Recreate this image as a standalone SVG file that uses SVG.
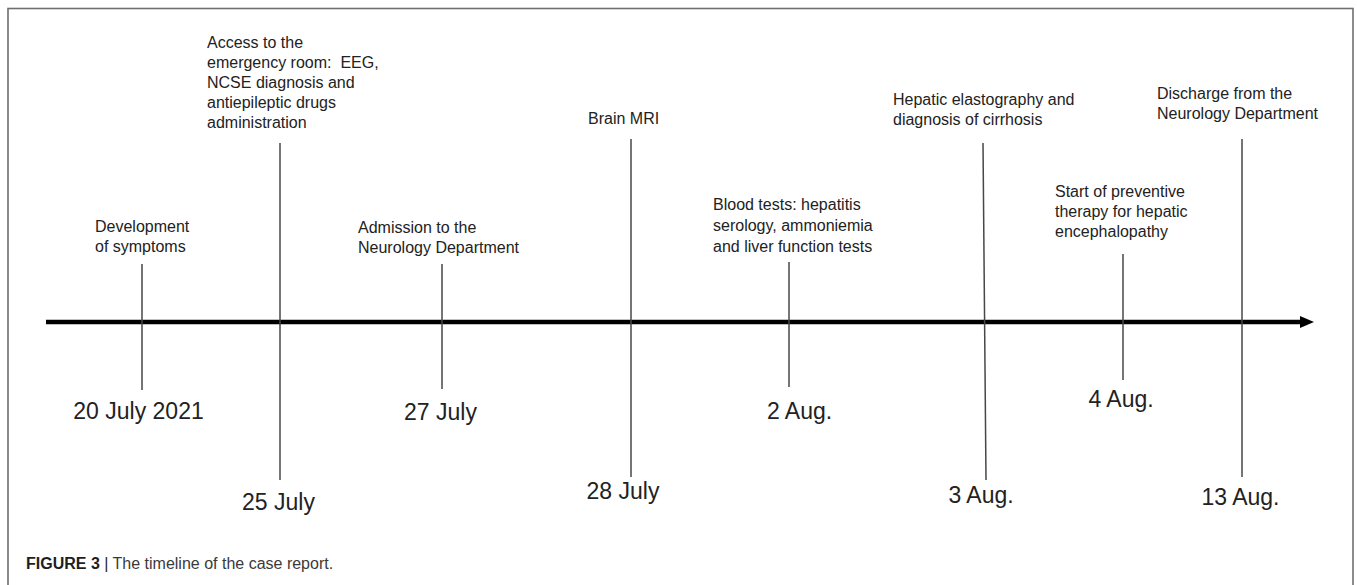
<svg xmlns="http://www.w3.org/2000/svg" width="1357" height="585" viewBox="0 0 1357 585">
<style>
.lbl{font-family:"Liberation Sans",Arial,sans-serif;font-size:16px;fill:#222}
.date{font-family:"Liberation Sans",Arial,sans-serif;font-size:23px;fill:#222;text-anchor:middle}
.tick{stroke:#474747;stroke-width:1.5;fill:none}
.cap{font-family:"Liberation Sans",Arial,Helvetica,sans-serif;font-size:16px;fill:#3a3a3a}
</style>
<defs>
<marker id="ah" viewBox="0 0 14 12" refX="1" refY="6" markerWidth="14" markerHeight="12" markerUnits="userSpaceOnUse" orient="auto">
<path d="M0,0 L14,6 L0,12 z" fill="#000"/>
</marker>
</defs>
<rect x="0" y="0" width="1357" height="585" fill="#fff"/>
<rect x="8" y="8.5" width="1345" height="600" fill="none" stroke="#6e6e6e" stroke-width="1.6"/>

<g id="connectors">
<line x1="46" y1="322" x2="1301" y2="322" stroke="#000" stroke-width="4.5" marker-end="url(#ah)"/>
<line class="tick" x1="142" y1="264" x2="142" y2="390"/>
<line class="tick" x1="280" y1="143" x2="280" y2="480"/>
<line class="tick" x1="442" y1="264" x2="442" y2="389"/>
<line class="tick" x1="631" y1="139" x2="631" y2="477"/>
<line class="tick" x1="789" y1="262" x2="789" y2="387"/>
<line class="tick" x1="983" y1="143" x2="986" y2="480"/>
<line class="tick" x1="1123" y1="254" x2="1123" y2="380"/>
<line class="tick" x1="1242" y1="139" x2="1242" y2="477"/>
</g>

<g id="n-20july">
<text class="lbl" x="95" y="232">Development</text>
<text class="lbl" x="95" y="252">of symptoms</text>
<text class="date" x="138.5" y="419">20 July 2021</text>
</g>
<g id="n-25july">
<text class="lbl" x="207" y="48">Access to the</text>
<text class="lbl" x="207" y="68" xml:space="preserve">emergency room:  EEG,</text>
<text class="lbl" x="207" y="88">NCSE diagnosis and</text>
<text class="lbl" x="207" y="108">antiepileptic drugs</text>
<text class="lbl" x="207" y="128">administration</text>
<text class="date" x="278.5" y="510">25 July</text>
</g>
<g id="n-27july">
<text class="lbl" x="358" y="233">Admission to the</text>
<text class="lbl" x="358" y="253">Neurology Department</text>
<text class="date" x="440.5" y="420">27 July</text>
</g>
<g id="n-28july">
<text class="lbl" x="588" y="124">Brain MRI</text>
<text class="date" x="623" y="499">28 July</text>
</g>
<g id="n-2aug">
<text class="lbl" x="713" y="210">Blood tests: hepatitis</text>
<text class="lbl" x="713" y="231">serology, ammoniemia</text>
<text class="lbl" x="713" y="252">and liver function tests</text>
<text class="date" x="799.5" y="419">2 Aug.</text>
</g>
<g id="n-3aug">
<text class="lbl" x="893" y="105">Hepatic elastography and</text>
<text class="lbl" x="893" y="125">diagnosis of cirrhosis</text>
<text class="date" x="981" y="503">3 Aug.</text>
</g>
<g id="n-4aug">
<text class="lbl" x="1055" y="197">Start of preventive</text>
<text class="lbl" x="1055" y="217">therapy for hepatic</text>
<text class="lbl" x="1055" y="237">encephalopathy</text>
<text class="date" x="1121" y="407">4 Aug.</text>
</g>
<g id="n-13aug">
<text class="lbl" x="1157" y="99">Discharge from the</text>
<text class="lbl" x="1157" y="119">Neurology Department</text>
<text class="date" x="1240.5" y="505">13 Aug.</text>
</g>

<g id="caption">
<text class="cap" x="26" y="569"><tspan font-weight="bold" fill="#1e1e1e">FIGURE 3</tspan> <tspan fill="#1e1e1e">|</tspan> The timeline of the case report.</text>
</g>
</svg>
